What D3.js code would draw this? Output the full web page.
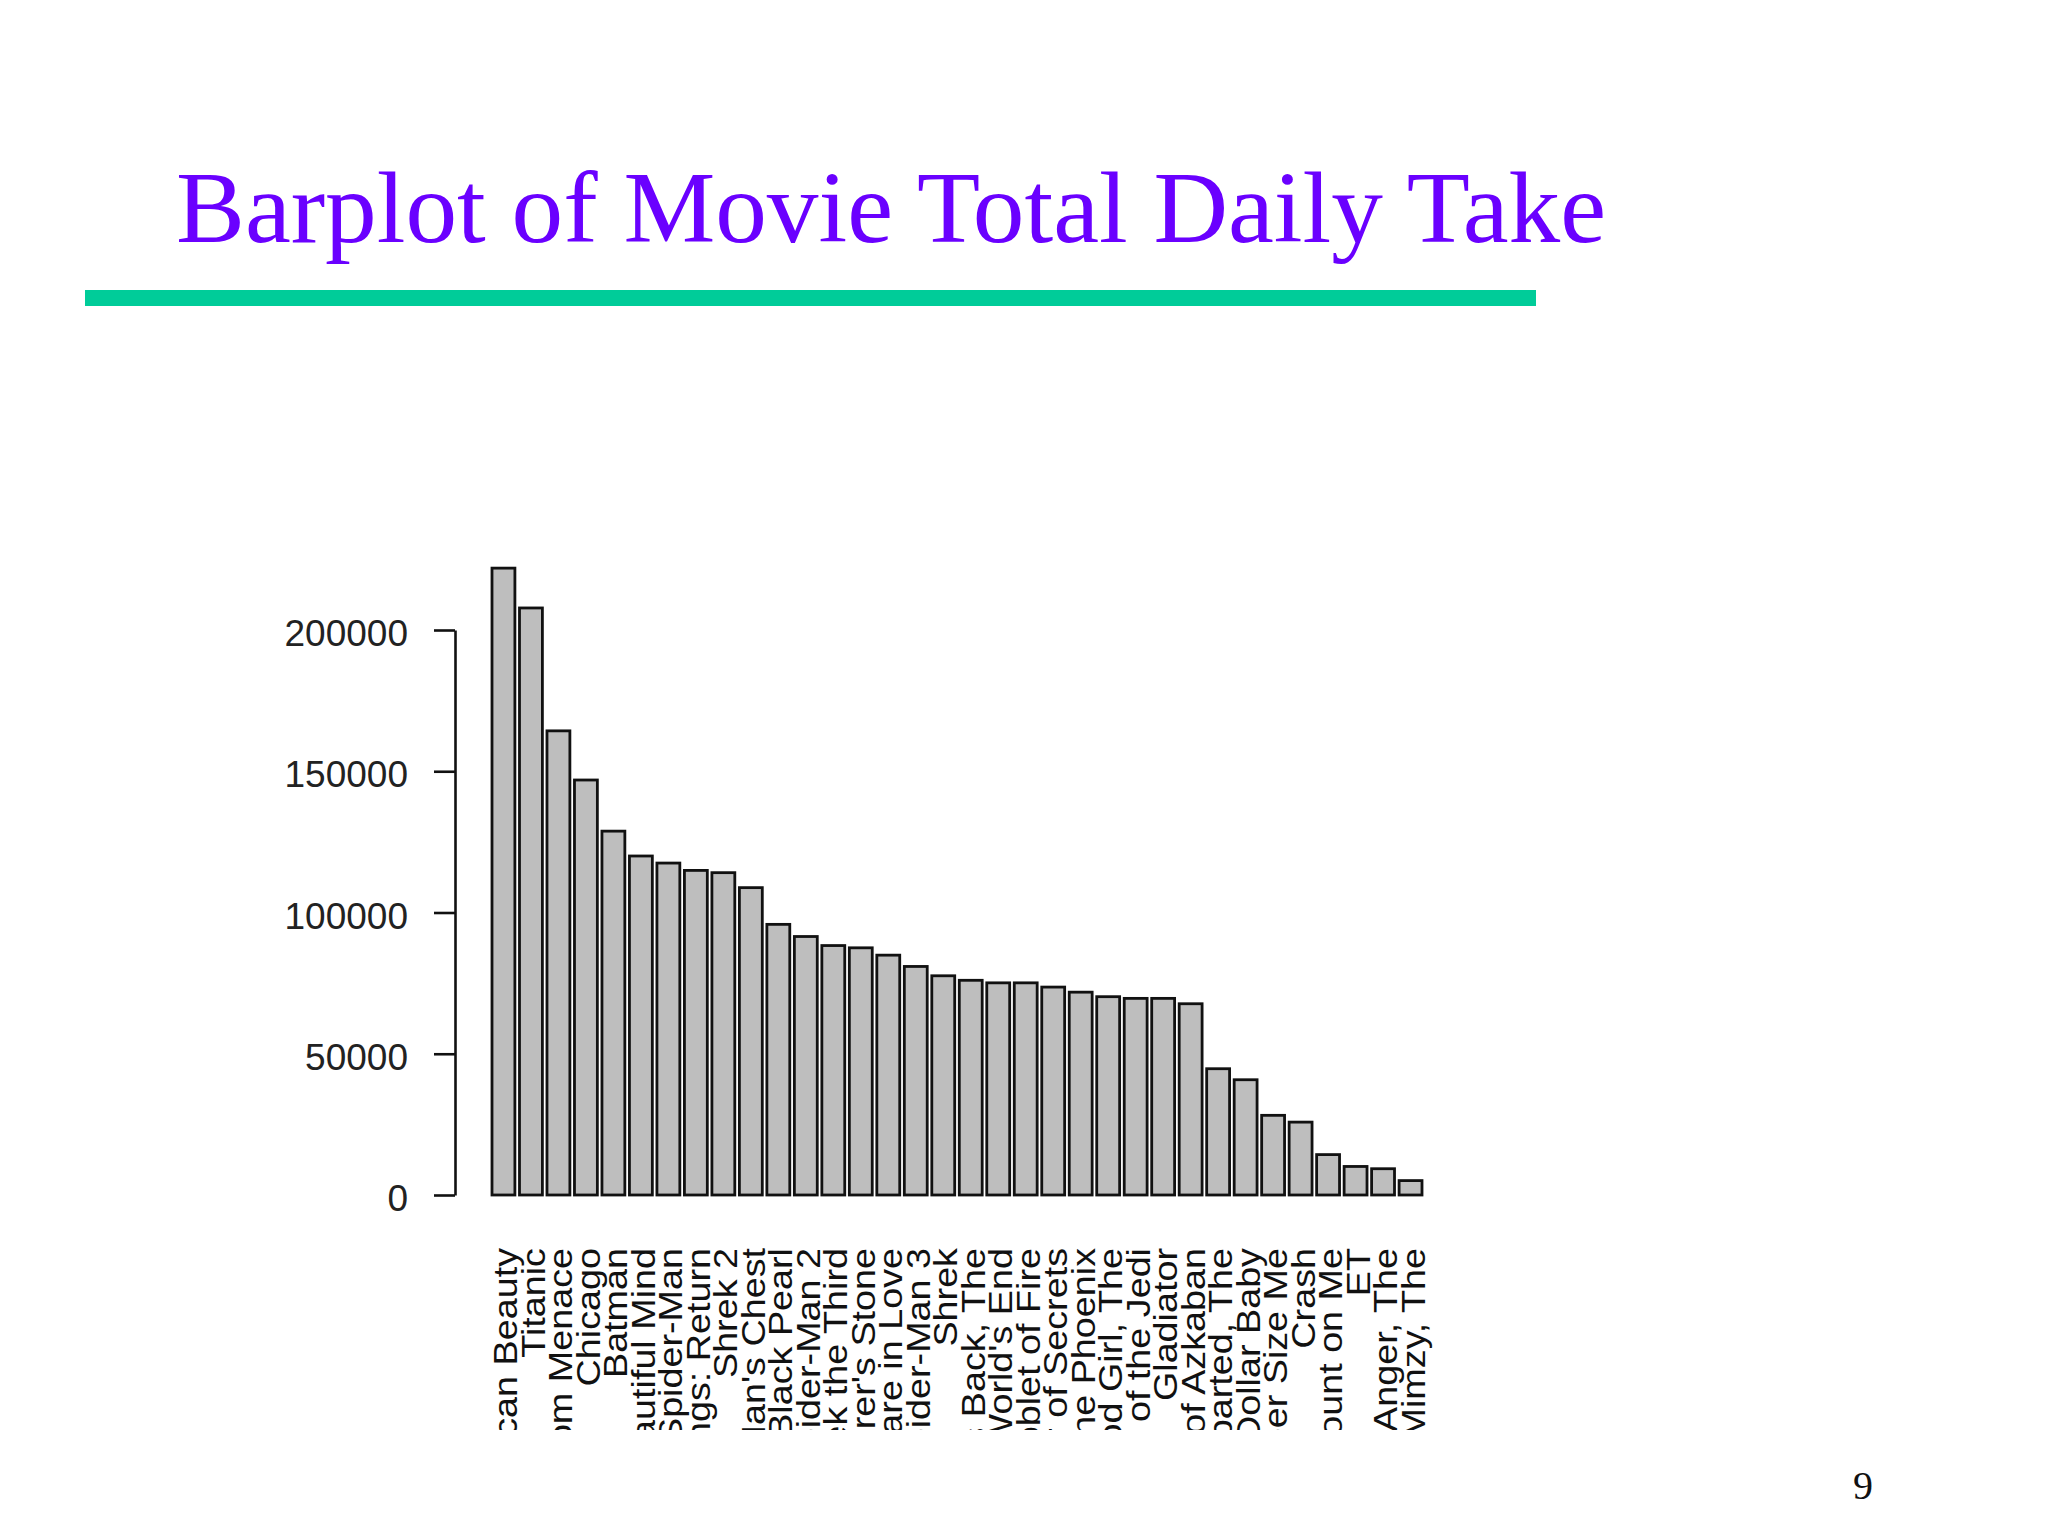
<!DOCTYPE html>
<html>
<head>
<meta charset="utf-8">
<script src="https://cdn.jsdelivr.net/npm/d3@7"></script>
<style>
  body { margin: 0; background: #ffffff; }
</style>
</head>
<body>
<div id="slide"></div>
<script>
// 1: DATA
const movies = [
    "American Beauty", "Titanic", "Star Wars: The Phantom Menace", "Chicago", "Batman",
    "A Beautiful Mind", "Spider-Man", "Lord of the Rings: Return", "Shrek 2",
    "Pirates of the Caribbean: Dead Man's Chest", "Pirates of the Caribbean: Black Pearl",
    "Spider-Man 2", "Shrek the Third", "Harry Potter and the Sorcerer's Stone",
    "Shakespeare in Love", "Spider-Man 3", "Shrek", "Empire Strikes Back, The",
    "Pirates of the Caribbean: At World's End", "Harry Potter and the Goblet of Fire",
    "Harry Potter and the Chamber of Secrets", "Harry Potter and the Order of the Phoenix",
    "Good Girl, The", "Return of the Jedi", "Gladiator",
    "Harry Potter and the Prisoner of Azkaban", "Departed, The", "Million Dollar Baby",
    "Super Size Me", "Crash", "You Can Count on Me", "ET", "Anger, The", "Last Mimzy, The"
];
const dailyTake = [
    221900, 207800, 164300, 146900, 128800, 120000, 117500, 114900, 114100,
    108800, 95800, 91500, 88300, 87500, 84900, 80900, 77600, 76000,
    75100, 75100, 73600, 71800, 70200, 69600, 69600, 67700,
    44700, 40800, 28200, 25800, 14300, 10100, 9300, 5100
];
const yTicks = [0, 50000, 100000, 150000, 200000];
const slideTitle = "Barplot of Movie Total Daily Take";
const pageNumber = "9";

const data = movies.map((m, i) => ({ movie: m, take: dailyTake[i] }));

// 2: SET GLOBAL VARIABLES
const W = 2048, H = 1536;
const plot = { left: 492, right: 1422, top: 630, bottom: 1195 };
const axisX = 455;
const labelTop = 1248, labelClip = 1430;

const svg = d3.select("#slide")
    .append("svg")
    .attr("width", W)
    .attr("height", H);

svg.append("rect")
    .attr("width", W)
    .attr("height", H)
    .attr("fill", "#ffffff");

// 3: SLIDE TITLE + RULE
svg.append("text")
    .attr("x", 176)
    .attr("y", 242)
    .attr("font-family", "'Liberation Serif', 'Times New Roman', serif")
    .attr("font-size", 102)
    .attr("fill", "#6a00ff")
    .attr("textLength", 1430)
    .attr("lengthAdjust", "spacingAndGlyphs")
    .text(slideTitle);

svg.append("rect")
    .attr("x", 85)
    .attr("y", 290)
    .attr("width", 1451)
    .attr("height", 16)
    .attr("fill", "#00cc99");

// 4: SCALES
const x = d3.scaleBand()
    .domain(movies)
    .range([plot.left, plot.right])
    .paddingInner(0.2 / 1.2)
    .paddingOuter(0);

const y = d3.scaleLinear()
    .domain([0, 200000])
    .range([plot.bottom, plot.top]);

// 5: BARS
svg.selectAll(".bar")
    .data(data)
    .enter()
    .append("rect")
    .attr("class", "bar")
    .attr("x", d => x(d.movie))
    .attr("y", d => y(d.take))
    .attr("width", x.bandwidth())
    .attr("height", d => plot.bottom - y(d.take))
    .attr("fill", "#bebebe")
    .attr("stroke", "#111111")
    .attr("stroke-width", 2.8);

// 6: Y AXIS (R style, only from 0 to 200000)
const yAxis = svg.append("g")
    .attr("transform", `translate(${axisX},0)`)
    .call(d3.axisLeft(y)
        .tickValues(yTicks)
        .tickFormat(d3.format("d"))
        .tickSize(21)
        .tickSizeOuter(0)
        .tickPadding(26));

yAxis.select(".domain")
    .attr("stroke", "#111111")
    .attr("stroke-width", 2.6);
yAxis.selectAll(".tick line")
    .attr("stroke", "#111111")
    .attr("stroke-width", 2.6);
yAxis.selectAll(".tick text")
    .attr("font-family", "'Liberation Sans', Arial, sans-serif")
    .attr("font-size", 37)
    .attr("fill", "#222222")
    .attr("dy", "0.42em");

// 7: X LABELS (rotated, cut off at the bottom of the figure)
svg.append("clipPath")
    .attr("id", "labelClip")
    .append("rect")
    .attr("x", plot.left - 40)
    .attr("y", labelTop - 20)
    .attr("width", plot.right - plot.left + 80)
    .attr("height", labelClip - labelTop + 20);

// labels in the picture are a little stretched along the text
svg.append("g")
    .attr("clip-path", "url(#labelClip)")
    .selectAll("text")
    .data(data)
    .enter()
    .append("text")
    .attr("transform", d => `translate(${x(d.movie) + x.bandwidth() / 2},${labelTop}) rotate(-90) scale(1.11,1)`)
    .attr("dy", 14)
    .attr("text-anchor", "end")
    .attr("font-family", "'Liberation Sans', Arial, sans-serif")
    .attr("font-size", 34)
    .attr("fill", "#111111")
    .text(d => d.movie);

// 8: PAGE NUMBER
svg.append("text")
    .attr("x", 1863)
    .attr("y", 1499)
    .attr("text-anchor", "middle")
    .attr("font-family", "'Liberation Serif', 'Times New Roman', serif")
    .attr("font-size", 40)
    .attr("fill", "#111111")
    .text(pageNumber);
</script>
</body>
</html>
